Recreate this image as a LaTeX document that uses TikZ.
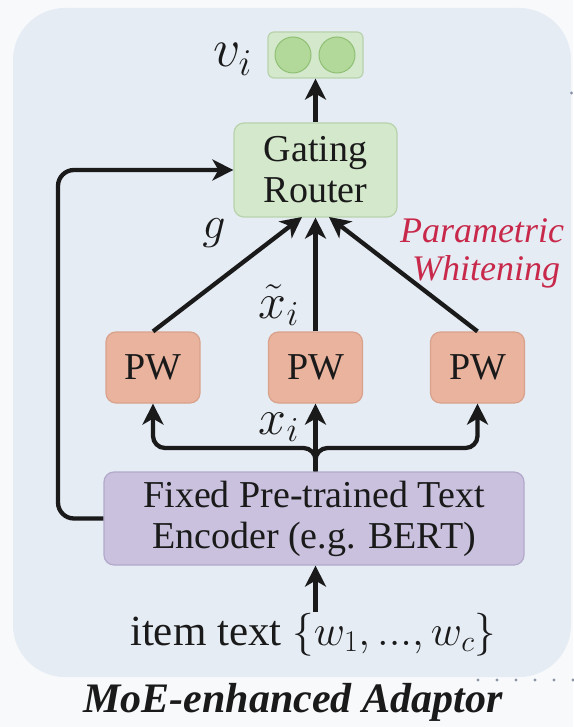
\RequirePackage{fix-cm}
\documentclass[tikz,border=0pt]{standalone}
\usepackage{fontspec}
\setmainfont{Liberation Serif}
\usetikzlibrary{arrows.meta}

\definecolor{pagebg}{HTML}{F8F9FB}
\definecolor{panel}{HTML}{E5ECF4}
\definecolor{gatefill}{HTML}{D4E8CB}
\definecolor{gateline}{HTML}{B8D2AC}
\definecolor{dotfill}{HTML}{B2D99A}
\definecolor{dotline}{HTML}{8FBF74}
\definecolor{pwfill}{HTML}{E9B39E}
\definecolor{pwline}{HTML}{D9A28C}
\definecolor{encfill}{HTML}{C9C1DD}
\definecolor{encline}{HTML}{B2A9CB}
\definecolor{ink}{HTML}{1A1A1A}
\definecolor{accent}{HTML}{C8284A}
\definecolor{dotgray}{HTML}{8A96A6}

\newcommand{\boxfont}{\fontsize{38}{41}\selectfont}

\begin{document}
\begin{tikzpicture}[x=1pt,y=-1pt,
  every node/.style={text=ink, inner sep=0pt},
  box/.style={draw, line width=1.2pt, rounded corners=10pt, align=center, font=\boxfont},
  gatebox/.style={box, fill=gatefill, draw=gateline, minimum width=163pt, minimum height=94pt},
  pwbox/.style={box, fill=pwfill, draw=pwline, minimum width=94pt, minimum height=71pt},
  encbox/.style={box, fill=encfill, draw=encline, minimum width=420pt, minimum height=93pt},
  embbox/.style={draw=gateline, fill=gatefill, line width=1.2pt, rounded corners=6pt, minimum width=95pt, minimum height=46pt},
  unit/.style={circle, draw=dotline, fill=dotfill, line width=1pt, minimum size=36pt},
  arr/.style={line width=4.3pt, draw=ink, -{Stealth[length=21pt,width=21pt,inset=6pt]}},
  lbl/.style={font=\fontsize{50}{56}\selectfont, anchor=base},
  note/.style={font=\fontsize{36}{40}\selectfont\itshape, text=accent, anchor=base}
]
\useasboundingbox (0,0) rectangle (573,727);
\fill[pagebg] (0,0) rectangle (573,727);
\fill[panel, rounded corners=52pt] (13,8) rectangle (571,677);

% output embedding
\node[embbox] (emb) at (315.5,55) {};
\node[unit] (u1) at (293,55) {};
\node[unit] (u2) at (337,55) {};
\node[lbl, font=\fontsize{54}{60}\selectfont, anchor=base east] (vlab) at (252,67) {$v_i$};

% gating router
\node[gatebox] (gate) at (315.5,170) {Gating\\Router};

% parametric whitening experts
\node[pwbox] (pw1) at (153,367.5) {PW};
\node[pwbox] (pw2) at (315.5,367.5) {PW};
\node[pwbox] (pw3) at (477.5,367.5) {PW};

% frozen encoder
\node[encbox] (enc) at (314,518.5) {Fixed Pre-trained Text\\Encoder (e.g. BERT)};

% input text
\node[font=\fontsize{43}{48}\selectfont, anchor=base] (item) at (313,645) {item text $\{w_1, ..., w_c\}$};

% caption
\node[font=\fontsize{42}{46}\selectfont\bfseries\itshape, anchor=base] (title) at (293,712) {MoE-enhanced Adaptor};

% math labels
\node[lbl, font=\fontsize{46}{52}\selectfont] (glab) at (214,238) {$g$};
\node[lbl, anchor=base east] (xtl) at (299,318) {$\tilde{x}_i$};
\node[lbl, anchor=base east] (xl) at (299,434) {$x_i$};
\node[note] (n1) at (482,242) {Parametric};
\node[note] (n2) at (486,280) {Whitening};

% connectors
\coordinate (split) at (315.5,448);
\coordinate (loop) at (58,170);
\coordinate (g1) at (302,217);
\coordinate (g3) at (329,217);
\coordinate (itop) at (315.5,612);

\draw[arr] (gate.north) -- (emb.south);
\draw[arr] (pw1.north) -- (g1);
\draw[arr] (pw2.north) -- (gate.south);
\draw[arr] (pw3.north) -- (g3);
\draw[arr] (enc.north -| split) -- (pw2.south);
\draw[arr, rounded corners=12pt] (enc.north -| split) -- (split) -| (pw1.south);
\draw[arr, rounded corners=12pt] (enc.north -| split) -- (split) -| (pw3.south);
\draw[arr, rounded corners=16pt] (enc.west) -| (loop) -- (gate.west);
\draw[arr] (itop) -- (enc.south -| itop);

% dotted guide at the panel edge
\foreach \k in {0,...,5} \fill[dotgray] (478+19*\k,680) circle (1.6pt);
\fill[dotgray] (571.5,93) circle (1.6pt);
\end{tikzpicture}
\end{document}
